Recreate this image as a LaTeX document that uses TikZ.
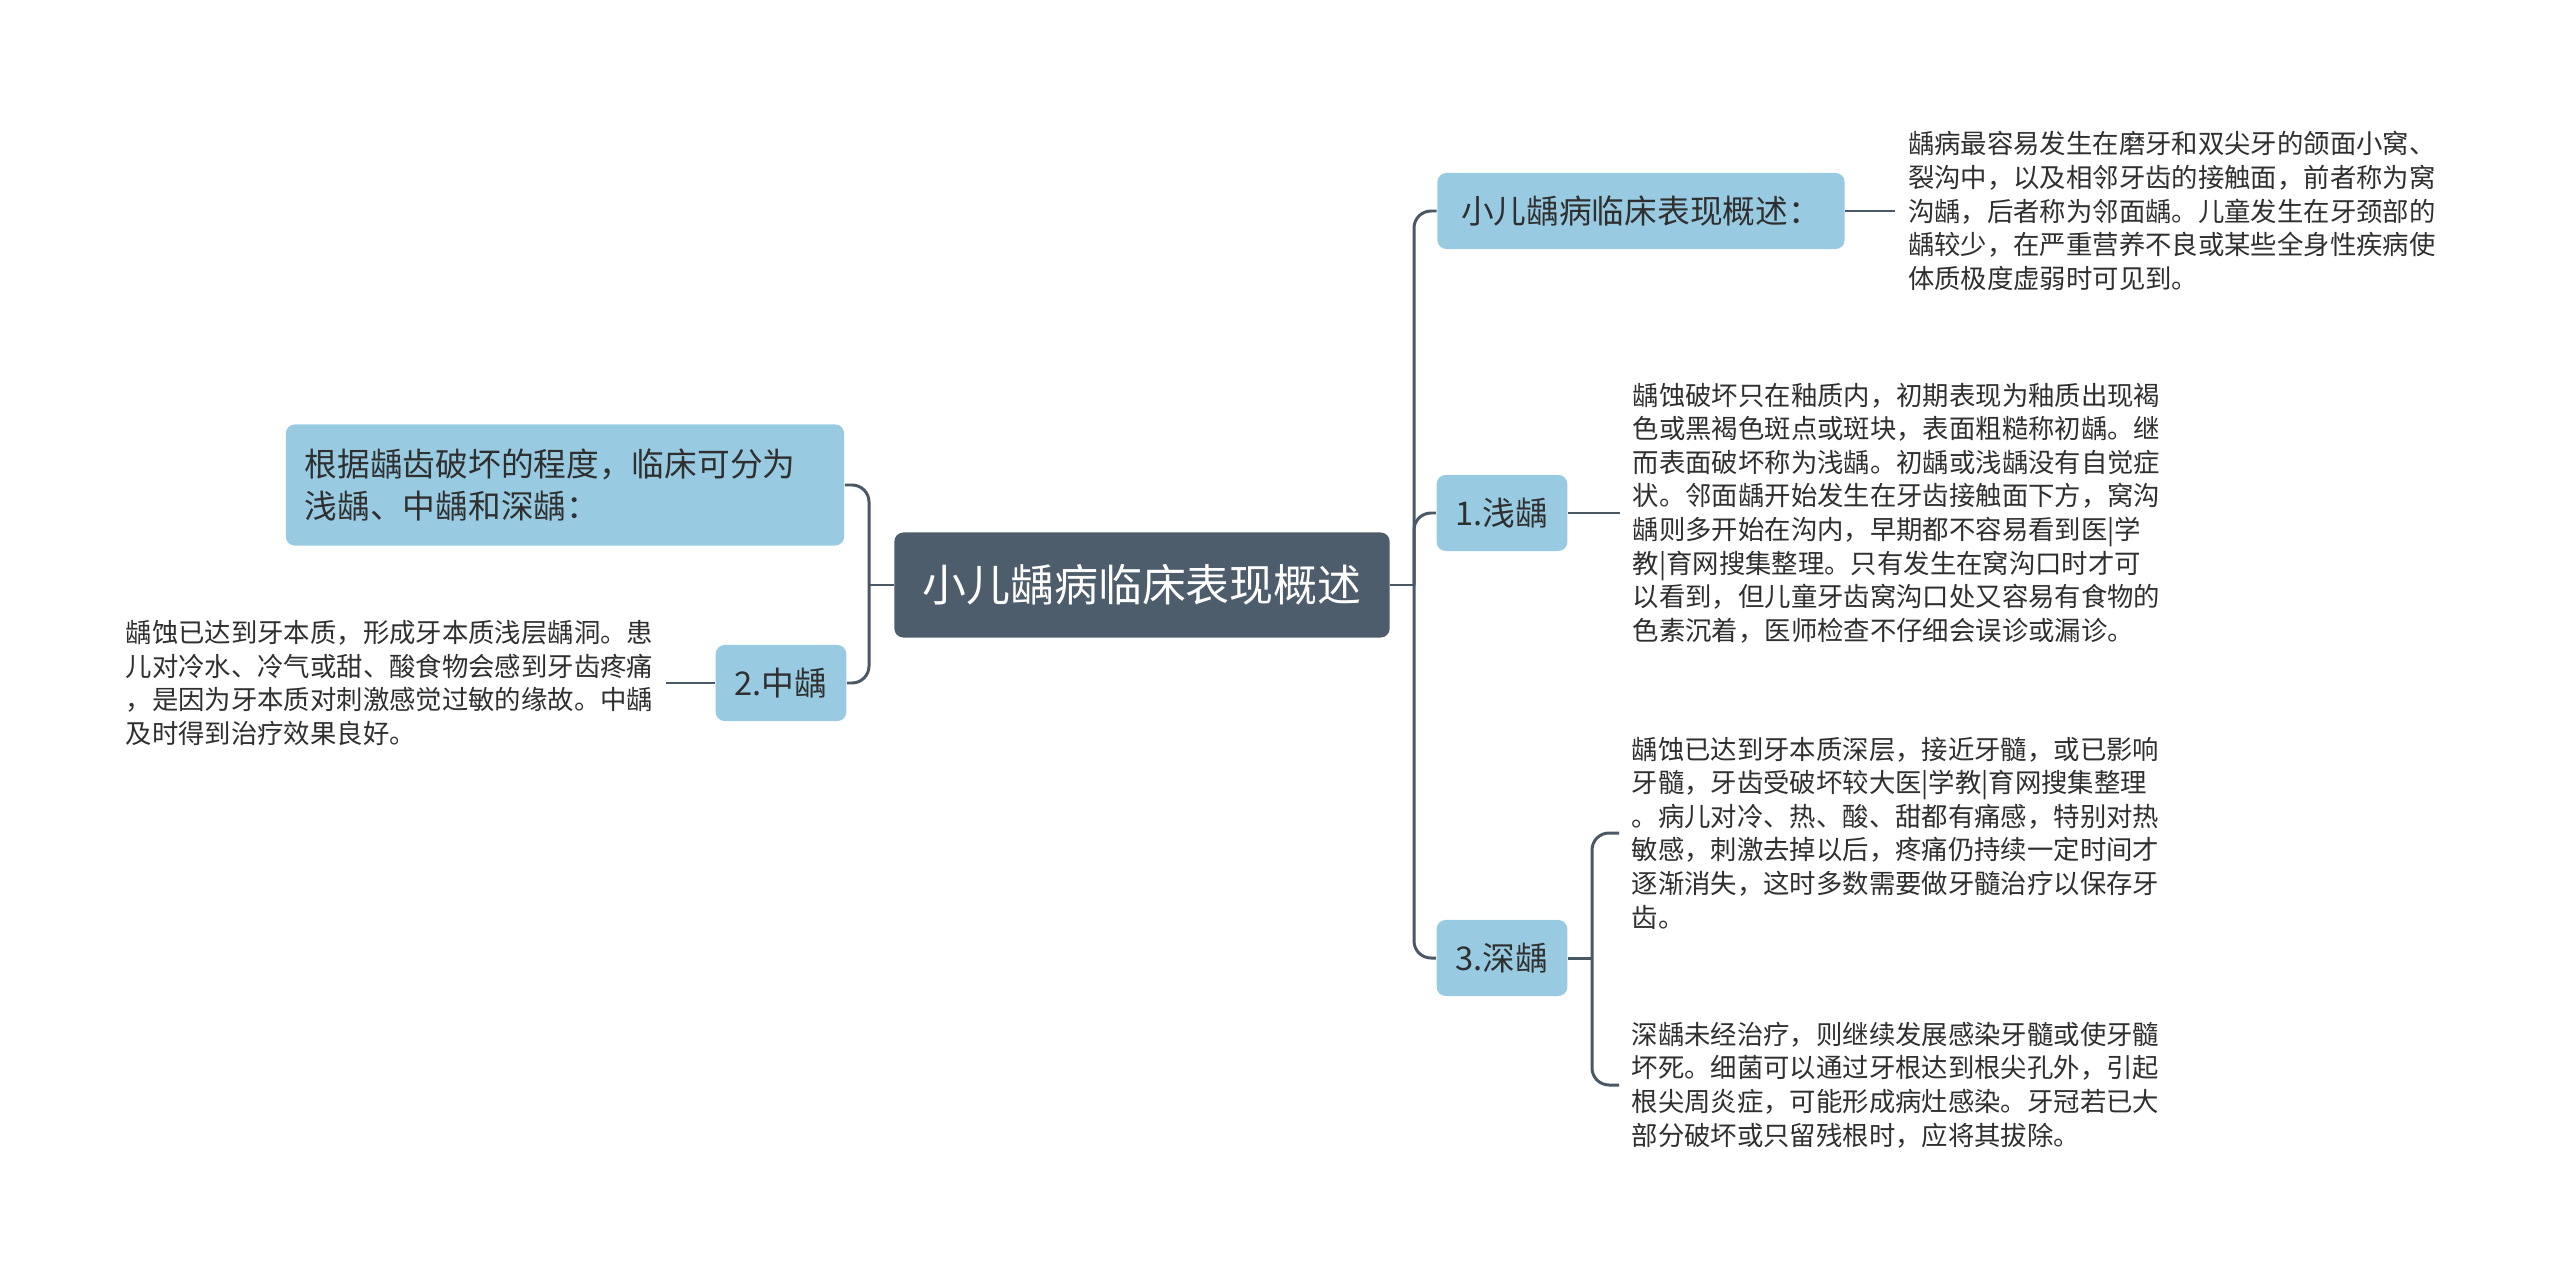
\documentclass[tikz,border=0pt]{standalone}
\usepackage{fontspec}
\setmainfont{Noto Sans CJK SC}
\usetikzlibrary{positioning}
\definecolor{rootfill}{HTML}{4E5D6B}
\definecolor{boxfill}{HTML}{98CBE2}
\definecolor{linecol}{HTML}{4A5866}
\definecolor{textcol}{HTML}{2F2F2F}

\begin{document}
\begin{tikzpicture}[x=0.01cm,y=-0.01cm,
	root/.style={fill=rootfill,text=white,rounded corners=0.09cm,minimum width=4.95cm,minimum height=1.05cm,font=\fontsize{12.5}{15}\selectfont},
	topic/.style={fill=boxfill,text=textcol,rounded corners=0.09cm,minimum height=0.76cm,inner xsep=0.19cm,font=\fontsize{9.3}{12}\selectfont},
	leaf/.style={text=textcol,align=left,inner xsep=0.12cm,inner ysep=0pt,font=\fontsize{7.5}{9.55}\selectfont},
	conn/.style={draw=linecol,line width=0.85pt,rounded corners=0.17cm}]
	\fill[white] (0,0) rectangle (2560,1279);
	\useasboundingbox (0,0) rectangle (2560,1279);
	\node[root] (root) at (1142,585) {小儿龋病临床表现概述};
	\node[topic,align=left,text width=5.2cm,minimum height=1.21cm] (L1) at (565,485) {根据龋齿破坏的程度，临床可分为\\浅龋、中龋和深龋：};
	\node[topic,minimum width=1.29cm] (L2) at (781,683) {2.中龋};
	\node[topic,minimum width=4.07cm] (R1) at (1641,211) {小儿龋病临床表现概述：};
	\node[topic,minimum width=1.29cm] (R2) at (1502,513) {1.浅龋};
	\node[topic,minimum width=1.29cm] (R3) at (1502,958) {3.深龋};
	\node[leaf,left=0.49cm of L2] (L2t) {龋蚀已达到牙本质，形成牙本质浅层龋洞。患\\儿对冷水、冷气或甜、酸食物会感到牙齿疼痛\\，是因为牙本质对刺激感觉过敏的缘故。中龋\\及时得到治疗效果良好。};
	\node[leaf,right=0.5cm of R1] (R1t) {龋病最容易发生在磨牙和双尖牙的颌面小窝、\\裂沟中，以及相邻牙齿的接触面，前者称为窝\\沟龋，后者称为邻面龋。儿童发生在牙颈部的\\龋较少，在严重营养不良或某些全身性疾病使\\体质极度虚弱时可见到。};
	\node[leaf,right=0.52cm of R2] (R2t) {龋蚀破坏只在釉质内，初期表现为釉质出现褐\\色或黑褐色斑点或斑块，表面粗糙称初龋。继\\而表面破坏称为浅龋。初龋或浅龋没有自觉症\\状。邻面龋开始发生在牙齿接触面下方，窝沟\\龋则多开始在沟内，早期都不容易看到医|学\\教|育网搜集整理。只有发生在窝沟口时才可\\以看到，但儿童牙齿窝沟口处又容易有食物的\\色素沉着，医师检查不仔细会误诊或漏诊。};
	\node[leaf,anchor=west] (R3a) at (1619,833) {龋蚀已达到牙本质深层，接近牙髓，或已影响\\牙髓，牙齿受破坏较大医|学教|育网搜集整理\\。病儿对冷、热、酸、甜都有痛感，特别对热\\敏感，刺激去掉以后，疼痛仍持续一定时间才\\逐渐消失，这时多数需要做牙髓治疗以保存牙\\齿。};
	\node[leaf,anchor=west] (R3b) at (1619,1085) {深龋未经治疗，则继续发展感染牙髓或使牙髓\\坏死。细菌可以通过牙根达到根尖孔外，引起\\根尖周炎症，可能形成病灶感染。牙冠若已大\\部分破坏或只留残根时，应将其拔除。};
	\coordinate (lj) at (869,585);
	\coordinate (rj) at (1414,585);
	\coordinate (dj) at (1592,958);
	\draw[conn] (root.west) -- (lj);
	\draw[conn] (lj) |- (L1.east);
	\draw[conn] (lj) |- (L2.east);
	\draw[conn] (L2.west) -- (L2t.east);
	\draw[conn] (root.east) -- (rj);
	\draw[conn] (rj) |- (R1.west);
	\draw[conn] (rj) |- (R2.west);
	\draw[conn] (rj) |- (R3.west);
	\draw[conn] (R1.east) -- (R1t.west);
	\draw[conn] (R2.east) -- (R2t.west);
	\draw[conn] (R3.east) -- (dj);
	\draw[conn] (dj) |- (R3a.west);
	\draw[conn] (dj) |- (R3b.west);

\end{tikzpicture}
\end{document}
